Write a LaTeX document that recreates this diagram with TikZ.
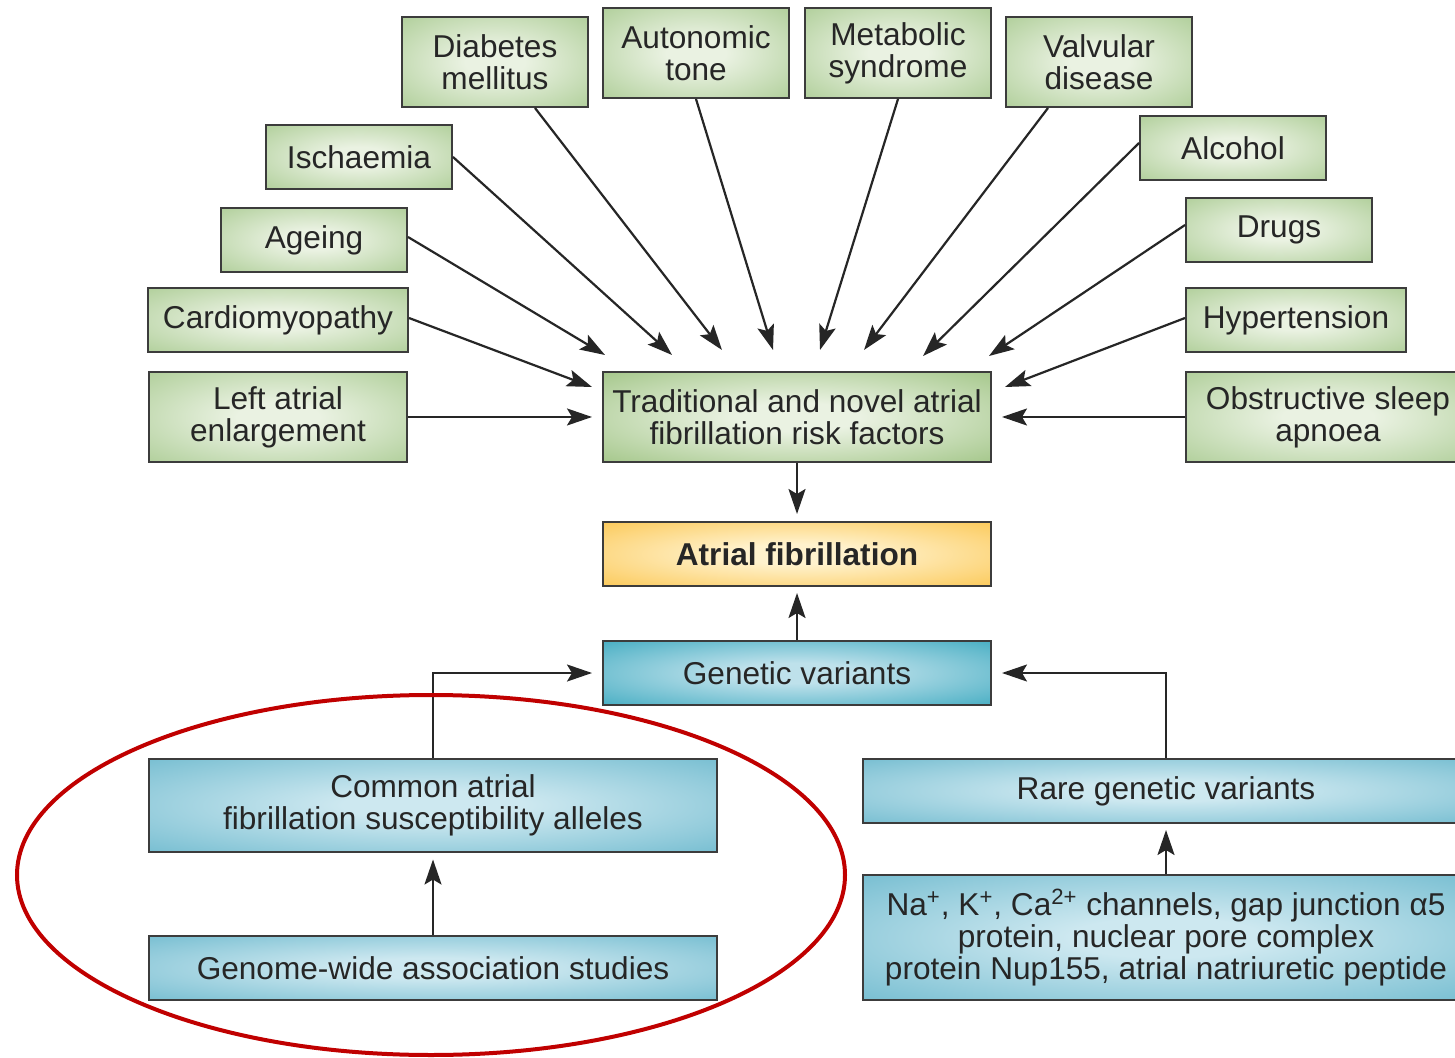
\documentclass[tikz,border=0pt]{standalone}
\usepackage{fontspec}
\setmainfont{Liberation Sans}
\usetikzlibrary{arrows.meta,calc}

\definecolor{grnout}{RGB}{152,192,124}
\definecolor{grnin}{RGB}{234,242,226}
\definecolor{grndk}{RGB}{134,180,100}
\definecolor{orgout}{RGB}{250,184,40}
\definecolor{orgin}{RGB}{255,242,205}
\definecolor{tealout}{RGB}{20,152,178}
\definecolor{tealin}{RGB}{190,225,235}
\definecolor{blueout}{RGB}{82,172,196}
\definecolor{bluein}{RGB}{205,232,240}
\definecolor{edge}{RGB}{60,60,60}
\definecolor{ring}{RGB}{192,0,0}

\pgfdeclareradialshading{grnglow}{\pgfpointorigin}{color(0bp)=(grnin); color(8bp)=(grnin); color(48bp)=(grnout); color(72bp)=(grnout)}
\pgfdeclareradialshading{grndkglow}{\pgfpointorigin}{color(0bp)=(grnin); color(8bp)=(grnin); color(48bp)=(grndk); color(72bp)=(grndk)}
\pgfdeclareradialshading{orgglow}{\pgfpointorigin}{color(0bp)=(orgin); color(8bp)=(orgin); color(48bp)=(orgout); color(72bp)=(orgout)}
\pgfdeclareradialshading{tealglow}{\pgfpointorigin}{color(0bp)=(tealin); color(8bp)=(tealin); color(48bp)=(tealout); color(72bp)=(tealout)}
\pgfdeclareradialshading{blueglow}{\pgfpointorigin}{color(0bp)=(bluein); color(8bp)=(bluein); color(48bp)=(blueout); color(72bp)=(blueout)}

\tikzset{
	box/.style={draw=edge, line width=1pt, align=center, inner sep=0pt, shade, text=black!85,
		font=\fontsize{15.8}{16}\selectfont},
	riskbox/.style={box, shading=grnglow, minimum width=93pt},
	hubbox/.style={box, shading=grndkglow, minimum width=194pt, minimum height=45pt},
	afbox/.style={box, shading=orgglow, minimum width=194pt, minimum height=32pt, font=\fontsize{15.8}{16}\selectfont\bfseries},
	genbox/.style={box, shading=tealglow, minimum width=194pt, minimum height=32pt},
	varbox/.style={box, shading=blueglow},
	arr/.style={-{Stealth[length=12.5pt,width=8.5pt,inset=2.5pt]}, line width=1.1pt, draw=black!85},
}

\begin{document}
\begin{tikzpicture}[x=0.5pt, y=-0.5pt]
		%%%%% FRAME %%%%%
		\clip (0, 0) rectangle (1455, 1058);
		\fill[white] (0, 0) rectangle (1455, 1058);
		
		%%%%% RISK FACTORS %%%%%
		\node[riskbox, minimum height=45pt] (diab) at (495, 62) {Diabetes\\mellitus};
		\node[riskbox, minimum height=45pt] (auton) at (696, 53) {Autonomic\\tone};
		\node[riskbox, minimum height=45pt] (metab) at (898, 53) {Metabolic\\syndrome};
		\node[riskbox, minimum height=45pt] (valv) at (1099, 62) {Valvular\\disease};
		\node[riskbox, minimum height=32pt] (isch) at (359, 157) {Ischaemia};
		\node[riskbox, minimum height=32pt] (alco) at (1233, 148) {Alcohol};
		\node[riskbox, minimum height=32pt] (ageing) at (314, 240) {Ageing};
		\node[riskbox, minimum height=32pt] (drugs) at (1279, 230) {Drugs};
		\node[riskbox, minimum height=32pt, minimum width=130pt] (cardio) at (278, 320) {Cardiomyopathy};
		\node[riskbox, minimum height=32pt, minimum width=110pt] (hyper) at (1296, 320) {Hypertension};
		\node[riskbox, minimum height=45pt, minimum width=129pt] (leftat) at (278, 417) {Left atrial\\enlargement};
		\node[riskbox, minimum height=45pt, minimum width=142pt] (osa) at (1328, 417) {Obstructive sleep\\apnoea};
		
		\node[hubbox] (risk) at (797, 417) {Traditional and novel atrial\\fibrillation risk factors};
		\node[afbox] (af) at (797, 554) {Atrial fibrillation};
		\node[genbox] (genvar) at (797, 673) {Genetic variants};
		
		%%%%% GENETICS %%%%%
		\node[varbox, minimum width=284pt, minimum height=46.5pt] (common) at (433, 805) {Common atrial\\fibrillation susceptibility alleles};
		\node[varbox, minimum width=284pt, minimum height=32pt] (gwas) at (433, 968) {Genome-wide association studies};
		\node[varbox, minimum width=303pt, minimum height=32pt] (rare) at (1166, 791) {Rare genetic variants};
		\node[varbox, minimum width=303pt, minimum height=62.5pt] (chan) at (1166, 937.5) {Na\textsuperscript{+}, K\textsuperscript{+}, Ca\textsuperscript{2+} channels, gap junction α5\\protein, nuclear pore complex\\protein Nup155, atrial natriuretic peptide};
		
		%%%%% ARROW ENDS %%%%%
		\coordinate (tIsch) at (672, 355);
		\coordinate (tAgeing) at (605, 355);
		\coordinate (tDiab) at (722, 350);
		\coordinate (tAuton) at (773, 350);
		\coordinate (tMetab) at (820, 350);
		\coordinate (tValv) at (864, 350);
		\coordinate (tAlco) at (923, 356);
		\coordinate (tDrugs) at (989, 356);
		\coordinate (tCardio) at (592, 387);
		\coordinate (tHyper) at (1005, 387);
		
		\draw[arr] ([xshift=20pt]diab.south) -- (tDiab);
		\draw[arr] (auton.south) -- (tAuton);
		\draw[arr] (metab.south) -- (tMetab);
		\draw[arr] ([xshift=-25.5pt]valv.south) -- (tValv);
		\draw[arr] (isch.east) -- (tIsch);
		\draw[arr] ([yshift=1.5pt]ageing.east) -- (tAgeing);
		\draw[arr] ([yshift=2.5pt]alco.west) -- (tAlco);
		\draw[arr] ([yshift=2.5pt]drugs.west) -- (tDrugs);
		\draw[arr] ([yshift=1pt]cardio.east) -- (tCardio);
		\draw[arr] ([yshift=1pt]hyper.west) -- (tHyper);
		\draw[arr, shorten >=5pt] (leftat.east) -- (leftat.east -| risk.west);
		\draw[arr, shorten >=5pt] (osa.west) -- (osa.west -| risk.east);
		
		\draw[arr, shorten >=3.5pt] (risk.south) -- (af.north);
		\draw[arr, shorten >=3pt] (genvar.north) -- (af.south);
		\draw[arr, shorten >=5pt] (common.north) |- (genvar.west);
		\draw[arr, shorten >=5pt] (rare.north) |- (genvar.east);
		\draw[arr, shorten >=3.5pt] (gwas.north) -- (common.south);
		\draw[arr, shorten >=3pt] (chan.north) -- (rare.south);
		
		%%%%% HIGHLIGHT %%%%%
		\draw[ring, line width=2pt] (431, 875) ellipse [x radius=207pt, y radius=90pt];
		
	\end{tikzpicture}
\end{document}
